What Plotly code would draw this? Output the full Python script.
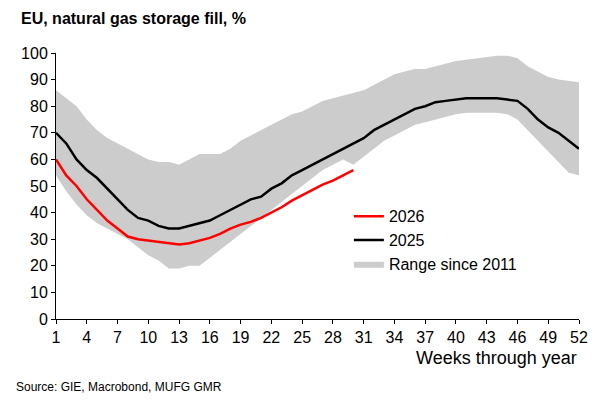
import plotly.graph_objects as go

weeks = list(range(1, 53))
range_hi = [86,83,80,75,71,68,66,64,62,60,59,59,58,60,62,62,62,64,67,69,71,73,75,77,78,80,82,83,84,85,86,88,90,92,93,94,94,95,96,97,97.5,98,98.5,99,99,98,95,93,91,90,89.5,89]
range_lo = [54,48,43,39,36,34,32,30,27,24,22,19,19,20,20,23,26,29,32,35,38,41,44,47,50,53,56,58,60,58,61,64,67,69,71,73,74,75,76,77,77.5,77.5,77.5,77.5,77,75,71,67,63,59,55,54]
s2025 = [70,66,60,56,53,49,45,41,38,37,35,34,34,35,36,37,39,41,43,45,46,49,51,54,56,58,60,62,64,66,68,71,73,75,77,79,80,81.5,82,82.5,83,83,83,83,82.5,82,79,75,72,70,67,64]
s2026 = [60,54,50,45,41,37,34,31,30,29.5,29,28.5,28,28.5,29.5,30.5,32,34,35.5,36.5,38,40,42,44.5,46.5,48.5,50.5,52,54,56]
xticks = list(range(1, 53, 3))

fig = go.Figure()
fig.add_trace(go.Scatter(x=weeks, y=range_lo, mode="lines", line=dict(width=0), showlegend=False, hoverinfo="skip"))
fig.add_trace(go.Scatter(x=weeks, y=range_hi, mode="lines", line=dict(width=0), fill="tonexty",
                         fillcolor="#cccccc", name="Range since 2011", legendrank=3))
fig.add_trace(go.Scatter(x=weeks, y=s2025, mode="lines", line=dict(color="black", width=2.5), name="2025", legendrank=2))
fig.add_trace(go.Scatter(x=weeks[:len(s2026)], y=s2026, mode="lines", line=dict(color="#ff0000", width=2.5), name="2026", legendrank=1))

fig.update_layout(
    width=600, height=400, plot_bgcolor="white", paper_bgcolor="white",
    margin=dict(l=48, r=29, t=45, b=89),
    font=dict(family="Liberation Sans, Arial", size=16, color="black"),
    legend=dict(x=0.56, y=0.45, xanchor="left", yanchor="top", bgcolor="rgba(0,0,0,0)", font=dict(size=16),
                tracegroupgap=0, traceorder="normal"),
    annotations=[
        dict(text="<b>EU, natural gas storage fill, %</b>", xref="paper", yref="paper", x=-0.07, y=1.17,
             xanchor="left", yanchor="top", showarrow=False, font=dict(size=16)),
        dict(text="Weeks through year", xref="paper", yref="paper", x=1.0, y=-0.1,
             xanchor="right", yanchor="top", showarrow=False, font=dict(size=18)),
        dict(text="Source: GIE, Macrobond, MUFG GMR", xref="paper", yref="paper", x=-0.08, y=-0.22,
             xanchor="left", yanchor="top", showarrow=False, font=dict(size=12)),
    ],
)
fig.update_xaxes(range=[1, 52], tickvals=xticks, showgrid=False, showline=True, linecolor="black",
                 ticks="outside", ticklen=4, tickcolor="black", zeroline=False)
fig.update_yaxes(range=[0, 100], dtick=10, showgrid=False, showline=True, linecolor="black",
                 ticks="outside", ticklen=4, tickcolor="black", zeroline=False)
fig.write_html("out.html")
